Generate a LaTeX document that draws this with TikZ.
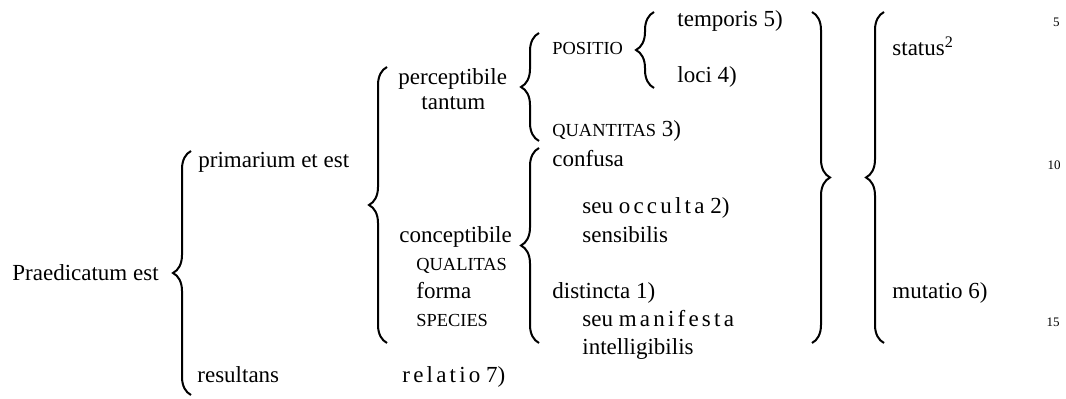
\documentclass[tikz,border=0pt]{standalone}
\usepackage{fontspec}
\setmainfont{Liberation Serif}
\usetikzlibrary{decorations.pathreplacing}

\newcommand{\smc}[1]{{\fontsize{9.2}{10}\selectfont #1}}
\newcommand{\sperr}[1]{{\addfontfeatures{LetterSpace=14}#1}}

\begin{document}
\begin{tikzpicture}[
  x=0.5pt, y=-0.5pt,
  font=\fontsize{11.5}{13}\selectfont,
  txt/.style={anchor=base west, inner sep=0pt},
  lnum/.style={anchor=base east, inner sep=0pt, font=\fontsize{6.5}{8}\selectfont},
  brc/.style={decorate, decoration={brace, amplitude=9pt}, line width=1pt},
]
\useasboundingbox (0,0) rectangle (1066,399);
% first column
\node[txt] (praed) at (12,281) {Praedicatum est};
\node[txt] (prim) at (198,168) {primarium et est};
\node[txt] (result) at (197,383) {resultans};
% second column
\node[txt] (percep) at (398,85) {perceptibile};
\node[txt] (tantum) at (421,110) {tantum};
\node[txt] (concep) at (399,243) {conceptibile};
\node[txt] (qualit) at (416,271) {\smc{QUALITAS}};
\node[txt] (forma) at (416,299) {forma};
\node[txt] (species) at (416,327) {\smc{SPECIES}};
\node[txt] (relatio) at (402,383) {\sperr{relatio} 7)};
% third column
\node[txt] (positio) at (552,55) {\smc{POSITIO}};
\node[txt] (quant) at (552,137) {\smc{QUANTITAS} 3)};
\node[txt] (confusa) at (552,167) {confusa};
\node[txt] (occulta) at (582,214) {seu \sperr{occulta} 2)};
\node[txt] (sensib) at (582,243) {sensibilis};
\node[txt] (distin) at (552,299) {distincta 1)};
\node[txt] (manif) at (582,327) {seu \sperr{manifesta}};
\node[txt] (intell) at (582,355) {intelligibilis};
% fourth column
\node[txt] (tempor) at (677,27) {temporis 5)};
\node[txt] (loci) at (677,83) {loci 4)};
\node[txt] (status) at (892,56) {status\textsuperscript{2}};
\node[txt] (mutatio) at (892,299) {mutatio 6)};
% line numbers
\node[lnum] (n5) at (1060,27) {5};
\node[lnum] (n10) at (1061,170) {10};
\node[lnum] (n15) at (1060,327) {15};
% opening braces
\foreach \b/\x/\t/\u in {b1/191/151/395, b2/387/67/343, b3/539/33/141,
                         b4/539/148/343, b5/654/12/88, b7/884/12/343}{
  \coordinate (\b-t) at (\x,\t);
  \coordinate (\b-b) at (\x,\u);
  \draw[brc] (\b-b) -- (\b-t);
}
% closing brace
\coordinate (b6-t) at (812,12);
\coordinate (b6-b) at (812,343);
\draw[brc] (b6-t) -- (b6-b);
\end{tikzpicture}
\end{document}
